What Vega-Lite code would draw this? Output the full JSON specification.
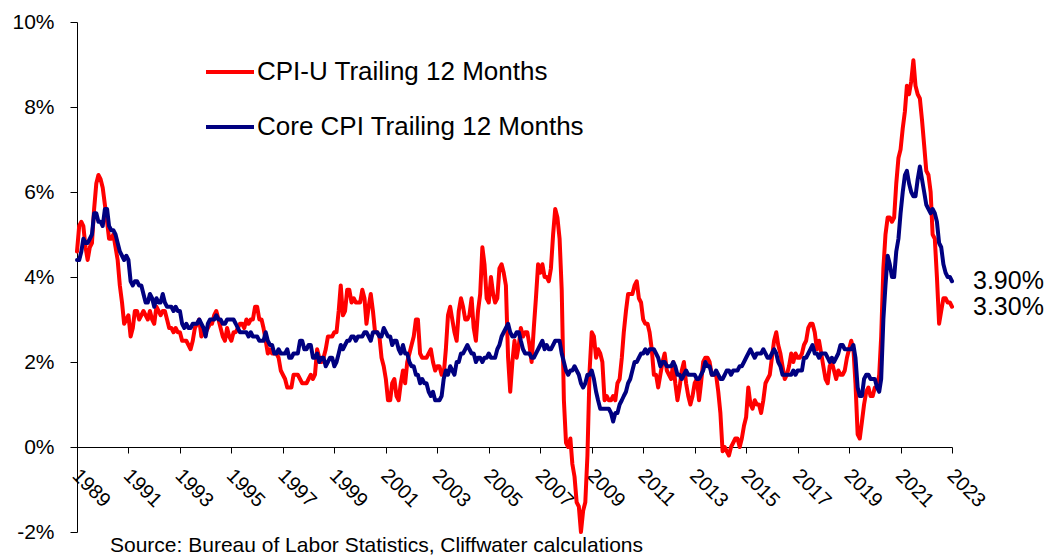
{
"$schema":"https://vega.github.io/schema/vega-lite/v6.json",
"width":875,"height":510,
"autosize":{"type":"none"},
"padding":{"left":77,"top":22,"right":95,"bottom":23},
"background":"white",
"config":{"view":{"stroke":null},"font":"Liberation Sans"},
"title":{"text":"Source: Bureau of Labor Statistics, Cliffwater calculations","orient":"bottom","anchor":"start","frame":"group","dx":33,"offset":-7,"fontSize":21,"fontWeight":"normal","color":"black","font":"Liberation Sans","baseline":"top"},
"datasets":{
"cpi":[
{"d":"1989-12","c":4.6,"k":4.4},
{"d":"1990-01","c":5.2,"k":4.4},{"d":"1990-02","c":5.3,"k":4.6},{"d":"1990-03","c":5.2,"k":4.9},{"d":"1990-04","c":4.7,"k":4.8},{"d":"1990-05","c":4.4,"k":4.8},{"d":"1990-06","c":4.7,"k":4.9},{"d":"1990-07","c":4.8,"k":5.0},{"d":"1990-08","c":5.6,"k":5.5},{"d":"1990-09","c":6.2,"k":5.5},{"d":"1990-10","c":6.4,"k":5.3},{"d":"1990-11","c":6.3,"k":5.3},{"d":"1990-12","c":6.1,"k":5.2},
{"d":"1991-01","c":5.7,"k":5.6},{"d":"1991-02","c":5.3,"k":5.6},{"d":"1991-03","c":4.9,"k":5.2},{"d":"1991-04","c":4.9,"k":5.1},{"d":"1991-05","c":5.0,"k":5.1},{"d":"1991-06","c":4.7,"k":5.0},{"d":"1991-07","c":4.4,"k":4.8},{"d":"1991-08","c":3.8,"k":4.6},{"d":"1991-09","c":3.4,"k":4.5},{"d":"1991-10","c":2.9,"k":4.4},{"d":"1991-11","c":3.0,"k":4.5},{"d":"1991-12","c":3.1,"k":4.4},
{"d":"1992-01","c":2.6,"k":3.9},{"d":"1992-02","c":2.8,"k":3.8},{"d":"1992-03","c":3.2,"k":3.9},{"d":"1992-04","c":3.2,"k":3.9},{"d":"1992-05","c":3.0,"k":3.8},{"d":"1992-06","c":3.1,"k":3.8},{"d":"1992-07","c":3.2,"k":3.6},{"d":"1992-08","c":3.1,"k":3.4},{"d":"1992-09","c":3.0,"k":3.4},{"d":"1992-10","c":3.2,"k":3.6},{"d":"1992-11","c":3.0,"k":3.5},{"d":"1992-12","c":2.9,"k":3.3},
{"d":"1993-01","c":3.3,"k":3.5},{"d":"1993-02","c":3.2,"k":3.4},{"d":"1993-03","c":3.1,"k":3.4},{"d":"1993-04","c":3.2,"k":3.6},{"d":"1993-05","c":3.2,"k":3.4},{"d":"1993-06","c":3.0,"k":3.3},{"d":"1993-07","c":2.8,"k":3.3},{"d":"1993-08","c":2.8,"k":3.3},{"d":"1993-09","c":2.7,"k":3.2},{"d":"1993-10","c":2.8,"k":3.3},{"d":"1993-11","c":2.7,"k":3.2},{"d":"1993-12","c":2.7,"k":3.2},
{"d":"1994-01","c":2.5,"k":2.9},{"d":"1994-02","c":2.5,"k":2.8},{"d":"1994-03","c":2.5,"k":2.9},{"d":"1994-04","c":2.4,"k":2.8},{"d":"1994-05","c":2.3,"k":2.8},{"d":"1994-06","c":2.5,"k":2.9},{"d":"1994-07","c":2.8,"k":2.9},{"d":"1994-08","c":2.9,"k":2.9},{"d":"1994-09","c":3.0,"k":3.0},{"d":"1994-10","c":2.6,"k":2.9},{"d":"1994-11","c":2.7,"k":2.8},{"d":"1994-12","c":2.7,"k":2.6},
{"d":"1995-01","c":2.8,"k":2.9},{"d":"1995-02","c":2.9,"k":3.0},{"d":"1995-03","c":2.9,"k":3.0},{"d":"1995-04","c":3.1,"k":3.0},{"d":"1995-05","c":3.2,"k":3.1},{"d":"1995-06","c":3.0,"k":3.0},{"d":"1995-07","c":2.8,"k":3.0},{"d":"1995-08","c":2.6,"k":2.9},{"d":"1995-09","c":2.5,"k":2.9},{"d":"1995-10","c":2.8,"k":3.0},{"d":"1995-11","c":2.6,"k":3.0},{"d":"1995-12","c":2.5,"k":3.0},
{"d":"1996-01","c":2.7,"k":3.0},{"d":"1996-02","c":2.7,"k":2.9},{"d":"1996-03","c":2.8,"k":2.8},{"d":"1996-04","c":2.9,"k":2.7},{"d":"1996-05","c":2.9,"k":2.7},{"d":"1996-06","c":2.8,"k":2.7},{"d":"1996-07","c":3.0,"k":2.7},{"d":"1996-08","c":2.9,"k":2.6},{"d":"1996-09","c":3.0,"k":2.7},{"d":"1996-10","c":3.0,"k":2.6},{"d":"1996-11","c":3.3,"k":2.6},{"d":"1996-12","c":3.3,"k":2.6},
{"d":"1997-01","c":3.0,"k":2.5},{"d":"1997-02","c":3.0,"k":2.5},{"d":"1997-03","c":2.8,"k":2.5},{"d":"1997-04","c":2.5,"k":2.7},{"d":"1997-05","c":2.2,"k":2.5},{"d":"1997-06","c":2.3,"k":2.4},{"d":"1997-07","c":2.2,"k":2.4},{"d":"1997-08","c":2.2,"k":2.2},{"d":"1997-09","c":2.2,"k":2.2},{"d":"1997-10","c":2.1,"k":2.3},{"d":"1997-11","c":1.8,"k":2.2},{"d":"1997-12","c":1.7,"k":2.2},
{"d":"1998-01","c":1.6,"k":2.2},{"d":"1998-02","c":1.4,"k":2.3},{"d":"1998-03","c":1.4,"k":2.1},{"d":"1998-04","c":1.4,"k":2.1},{"d":"1998-05","c":1.7,"k":2.2},{"d":"1998-06","c":1.7,"k":2.2},{"d":"1998-07","c":1.7,"k":2.2},{"d":"1998-08","c":1.6,"k":2.5},{"d":"1998-09","c":1.5,"k":2.5},{"d":"1998-10","c":1.5,"k":2.3},{"d":"1998-11","c":1.5,"k":2.3},{"d":"1998-12","c":1.6,"k":2.4},
{"d":"1999-01","c":1.7,"k":2.4},{"d":"1999-02","c":1.6,"k":2.1},{"d":"1999-03","c":1.7,"k":2.1},{"d":"1999-04","c":2.3,"k":2.2},{"d":"1999-05","c":2.1,"k":2.0},{"d":"1999-06","c":2.0,"k":2.1},{"d":"1999-07","c":2.1,"k":2.1},{"d":"1999-08","c":2.3,"k":1.9},{"d":"1999-09","c":2.6,"k":2.0},{"d":"1999-10","c":2.6,"k":2.1},{"d":"1999-11","c":2.6,"k":2.1},{"d":"1999-12","c":2.7,"k":1.9},
{"d":"2000-01","c":2.7,"k":2.0},{"d":"2000-02","c":3.2,"k":2.2},{"d":"2000-03","c":3.8,"k":2.4},{"d":"2000-04","c":3.1,"k":2.3},{"d":"2000-05","c":3.2,"k":2.4},{"d":"2000-06","c":3.7,"k":2.5},{"d":"2000-07","c":3.7,"k":2.5},{"d":"2000-08","c":3.4,"k":2.6},{"d":"2000-09","c":3.5,"k":2.6},{"d":"2000-10","c":3.4,"k":2.5},{"d":"2000-11","c":3.4,"k":2.6},{"d":"2000-12","c":3.4,"k":2.6},
{"d":"2001-01","c":3.7,"k":2.6},{"d":"2001-02","c":3.5,"k":2.7},{"d":"2001-03","c":2.9,"k":2.7},{"d":"2001-04","c":3.3,"k":2.6},{"d":"2001-05","c":3.6,"k":2.5},{"d":"2001-06","c":3.2,"k":2.7},{"d":"2001-07","c":2.7,"k":2.7},{"d":"2001-08","c":2.7,"k":2.7},{"d":"2001-09","c":2.6,"k":2.6},{"d":"2001-10","c":2.1,"k":2.6},{"d":"2001-11","c":1.9,"k":2.8},{"d":"2001-12","c":1.6,"k":2.7},
{"d":"2002-01","c":1.1,"k":2.6},{"d":"2002-02","c":1.1,"k":2.6},{"d":"2002-03","c":1.5,"k":2.4},{"d":"2002-04","c":1.6,"k":2.5},{"d":"2002-05","c":1.2,"k":2.5},{"d":"2002-06","c":1.1,"k":2.3},{"d":"2002-07","c":1.5,"k":2.2},{"d":"2002-08","c":1.8,"k":2.4},{"d":"2002-09","c":1.5,"k":2.2},{"d":"2002-10","c":2.0,"k":2.2},{"d":"2002-11","c":2.2,"k":2.0},{"d":"2002-12","c":2.4,"k":1.9},
{"d":"2003-01","c":2.6,"k":1.9},{"d":"2003-02","c":3.0,"k":1.7},{"d":"2003-03","c":3.0,"k":1.7},{"d":"2003-04","c":2.2,"k":1.5},{"d":"2003-05","c":2.1,"k":1.6},{"d":"2003-06","c":2.1,"k":1.5},{"d":"2003-07","c":2.1,"k":1.5},{"d":"2003-08","c":2.2,"k":1.3},{"d":"2003-09","c":2.3,"k":1.2},{"d":"2003-10","c":2.0,"k":1.3},{"d":"2003-11","c":1.8,"k":1.1},{"d":"2003-12","c":1.9,"k":1.1},
{"d":"2004-01","c":1.9,"k":1.1},{"d":"2004-02","c":1.7,"k":1.2},{"d":"2004-03","c":1.7,"k":1.6},{"d":"2004-04","c":2.3,"k":1.8},{"d":"2004-05","c":3.1,"k":1.7},{"d":"2004-06","c":3.3,"k":1.9},{"d":"2004-07","c":3.0,"k":1.8},{"d":"2004-08","c":2.7,"k":1.7},{"d":"2004-09","c":2.5,"k":2.0},{"d":"2004-10","c":3.2,"k":2.0},{"d":"2004-11","c":3.5,"k":2.2},{"d":"2004-12","c":3.3,"k":2.2},
{"d":"2005-01","c":3.0,"k":2.3},{"d":"2005-02","c":3.0,"k":2.4},{"d":"2005-03","c":3.1,"k":2.3},{"d":"2005-04","c":3.5,"k":2.2},{"d":"2005-05","c":2.8,"k":2.2},{"d":"2005-06","c":2.5,"k":2.0},{"d":"2005-07","c":3.2,"k":2.1},{"d":"2005-08","c":3.6,"k":2.1},{"d":"2005-09","c":4.7,"k":2.0},{"d":"2005-10","c":4.3,"k":2.1},{"d":"2005-11","c":3.5,"k":2.1},{"d":"2005-12","c":3.4,"k":2.2},
{"d":"2006-01","c":4.0,"k":2.1},{"d":"2006-02","c":3.6,"k":2.1},{"d":"2006-03","c":3.4,"k":2.1},{"d":"2006-04","c":3.5,"k":2.3},{"d":"2006-05","c":4.2,"k":2.4},{"d":"2006-06","c":4.3,"k":2.6},{"d":"2006-07","c":4.1,"k":2.7},{"d":"2006-08","c":3.8,"k":2.8},{"d":"2006-09","c":2.1,"k":2.9},{"d":"2006-10","c":1.3,"k":2.7},{"d":"2006-11","c":2.0,"k":2.6},{"d":"2006-12","c":2.5,"k":2.6},
{"d":"2007-01","c":2.1,"k":2.7},{"d":"2007-02","c":2.4,"k":2.7},{"d":"2007-03","c":2.8,"k":2.5},{"d":"2007-04","c":2.6,"k":2.3},{"d":"2007-05","c":2.7,"k":2.2},{"d":"2007-06","c":2.7,"k":2.2},{"d":"2007-07","c":2.4,"k":2.2},{"d":"2007-08","c":2.0,"k":2.1},{"d":"2007-09","c":2.8,"k":2.1},{"d":"2007-10","c":3.5,"k":2.2},{"d":"2007-11","c":4.3,"k":2.3},{"d":"2007-12","c":4.1,"k":2.4},
{"d":"2008-01","c":4.3,"k":2.5},{"d":"2008-02","c":4.0,"k":2.3},{"d":"2008-03","c":4.0,"k":2.4},{"d":"2008-04","c":3.9,"k":2.3},{"d":"2008-05","c":4.2,"k":2.3},{"d":"2008-06","c":5.0,"k":2.4},{"d":"2008-07","c":5.6,"k":2.5},{"d":"2008-08","c":5.4,"k":2.5},{"d":"2008-09","c":4.9,"k":2.5},{"d":"2008-10","c":3.7,"k":2.2},{"d":"2008-11","c":1.1,"k":2.0},{"d":"2008-12","c":0.1,"k":1.8},
{"d":"2009-01","c":0.0,"k":1.7},{"d":"2009-02","c":0.2,"k":1.8},{"d":"2009-03","c":-0.4,"k":1.8},{"d":"2009-04","c":-0.7,"k":1.9},{"d":"2009-05","c":-1.3,"k":1.8},{"d":"2009-06","c":-1.4,"k":1.7},{"d":"2009-07","c":-2.0,"k":1.5},{"d":"2009-08","c":-1.5,"k":1.4},{"d":"2009-09","c":-1.3,"k":1.5},{"d":"2009-10","c":-0.2,"k":1.7},{"d":"2009-11","c":1.8,"k":1.7},{"d":"2009-12","c":2.7,"k":1.8},
{"d":"2010-01","c":2.6,"k":1.6},{"d":"2010-02","c":2.1,"k":1.3},{"d":"2010-03","c":2.3,"k":1.1},{"d":"2010-04","c":2.2,"k":0.9},{"d":"2010-05","c":2.0,"k":0.9},{"d":"2010-06","c":1.1,"k":0.9},{"d":"2010-07","c":1.2,"k":0.9},{"d":"2010-08","c":1.1,"k":0.9},{"d":"2010-09","c":1.1,"k":0.8},{"d":"2010-10","c":1.2,"k":0.6},{"d":"2010-11","c":1.1,"k":0.8},{"d":"2010-12","c":1.5,"k":0.8},
{"d":"2011-01","c":1.6,"k":1.0},{"d":"2011-02","c":2.1,"k":1.1},{"d":"2011-03","c":2.7,"k":1.2},{"d":"2011-04","c":3.2,"k":1.3},{"d":"2011-05","c":3.6,"k":1.5},{"d":"2011-06","c":3.6,"k":1.6},{"d":"2011-07","c":3.6,"k":1.8},{"d":"2011-08","c":3.8,"k":2.0},{"d":"2011-09","c":3.9,"k":2.0},{"d":"2011-10","c":3.5,"k":2.1},{"d":"2011-11","c":3.4,"k":2.2},{"d":"2011-12","c":3.0,"k":2.2},
{"d":"2012-01","c":2.9,"k":2.3},{"d":"2012-02","c":2.9,"k":2.2},{"d":"2012-03","c":2.7,"k":2.3},{"d":"2012-04","c":2.3,"k":2.3},{"d":"2012-05","c":1.7,"k":2.3},{"d":"2012-06","c":1.7,"k":2.2},{"d":"2012-07","c":1.4,"k":2.1},{"d":"2012-08","c":1.7,"k":1.9},{"d":"2012-09","c":2.0,"k":2.0},{"d":"2012-10","c":2.2,"k":2.0},{"d":"2012-11","c":1.8,"k":1.9},{"d":"2012-12","c":1.7,"k":1.9},
{"d":"2013-01","c":1.6,"k":1.9},{"d":"2013-02","c":2.0,"k":2.0},{"d":"2013-03","c":1.5,"k":1.9},{"d":"2013-04","c":1.1,"k":1.7},{"d":"2013-05","c":1.4,"k":1.7},{"d":"2013-06","c":1.8,"k":1.6},{"d":"2013-07","c":2.0,"k":1.7},{"d":"2013-08","c":1.5,"k":1.8},{"d":"2013-09","c":1.2,"k":1.7},{"d":"2013-10","c":1.0,"k":1.7},{"d":"2013-11","c":1.2,"k":1.7},{"d":"2013-12","c":1.5,"k":1.7},
{"d":"2014-01","c":1.6,"k":1.6},{"d":"2014-02","c":1.1,"k":1.6},{"d":"2014-03","c":1.5,"k":1.7},{"d":"2014-04","c":2.0,"k":1.8},{"d":"2014-05","c":2.1,"k":2.0},{"d":"2014-06","c":2.1,"k":1.9},{"d":"2014-07","c":2.0,"k":1.9},{"d":"2014-08","c":1.7,"k":1.7},{"d":"2014-09","c":1.7,"k":1.7},{"d":"2014-10","c":1.7,"k":1.8},{"d":"2014-11","c":1.3,"k":1.7},{"d":"2014-12","c":0.8,"k":1.6},
{"d":"2015-01","c":-0.1,"k":1.6},{"d":"2015-02","c":0.0,"k":1.7},{"d":"2015-03","c":-0.1,"k":1.8},{"d":"2015-04","c":-0.2,"k":1.8},{"d":"2015-05","c":0.0,"k":1.7},{"d":"2015-06","c":0.1,"k":1.8},{"d":"2015-07","c":0.2,"k":1.8},{"d":"2015-08","c":0.2,"k":1.8},{"d":"2015-09","c":0.0,"k":1.9},{"d":"2015-10","c":0.2,"k":1.9},{"d":"2015-11","c":0.5,"k":2.0},{"d":"2015-12","c":0.7,"k":2.1},
{"d":"2016-01","c":1.4,"k":2.2},{"d":"2016-02","c":1.0,"k":2.3},{"d":"2016-03","c":0.9,"k":2.2},{"d":"2016-04","c":1.1,"k":2.1},{"d":"2016-05","c":1.0,"k":2.2},{"d":"2016-06","c":1.0,"k":2.2},{"d":"2016-07","c":0.8,"k":2.2},{"d":"2016-08","c":1.1,"k":2.3},{"d":"2016-09","c":1.5,"k":2.2},{"d":"2016-10","c":1.6,"k":2.1},{"d":"2016-11","c":1.7,"k":2.1},{"d":"2016-12","c":2.1,"k":2.2},
{"d":"2017-01","c":2.5,"k":2.3},{"d":"2017-02","c":2.7,"k":2.2},{"d":"2017-03","c":2.4,"k":2.0},{"d":"2017-04","c":2.2,"k":1.9},{"d":"2017-05","c":1.9,"k":1.7},{"d":"2017-06","c":1.6,"k":1.7},{"d":"2017-07","c":1.7,"k":1.7},{"d":"2017-08","c":1.9,"k":1.7},{"d":"2017-09","c":2.2,"k":1.7},{"d":"2017-10","c":2.0,"k":1.8},{"d":"2017-11","c":2.2,"k":1.7},{"d":"2017-12","c":2.1,"k":1.8},
{"d":"2018-01","c":2.1,"k":1.8},{"d":"2018-02","c":2.2,"k":1.8},{"d":"2018-03","c":2.4,"k":2.1},{"d":"2018-04","c":2.5,"k":2.1},{"d":"2018-05","c":2.8,"k":2.2},{"d":"2018-06","c":2.9,"k":2.3},{"d":"2018-07","c":2.9,"k":2.4},{"d":"2018-08","c":2.7,"k":2.2},{"d":"2018-09","c":2.3,"k":2.2},{"d":"2018-10","c":2.5,"k":2.1},{"d":"2018-11","c":2.2,"k":2.2},{"d":"2018-12","c":1.9,"k":2.2},
{"d":"2019-01","c":1.6,"k":2.2},{"d":"2019-02","c":1.5,"k":2.1},{"d":"2019-03","c":1.9,"k":2.0},{"d":"2019-04","c":2.0,"k":2.1},{"d":"2019-05","c":1.8,"k":2.0},{"d":"2019-06","c":1.6,"k":2.1},{"d":"2019-07","c":1.8,"k":2.2},{"d":"2019-08","c":1.7,"k":2.4},{"d":"2019-09","c":1.7,"k":2.4},{"d":"2019-10","c":1.8,"k":2.3},{"d":"2019-11","c":2.1,"k":2.3},{"d":"2019-12","c":2.3,"k":2.3},
{"d":"2020-01","c":2.5,"k":2.3},{"d":"2020-02","c":2.3,"k":2.4},{"d":"2020-03","c":1.5,"k":2.1},{"d":"2020-04","c":0.3,"k":1.4},{"d":"2020-05","c":0.2,"k":1.2},{"d":"2020-06","c":0.6,"k":1.2},{"d":"2020-07","c":1.0,"k":1.6},{"d":"2020-08","c":1.3,"k":1.7},{"d":"2020-09","c":1.4,"k":1.7},{"d":"2020-10","c":1.2,"k":1.6},{"d":"2020-11","c":1.2,"k":1.6},{"d":"2020-12","c":1.4,"k":1.6},
{"d":"2021-01","c":1.4,"k":1.4},{"d":"2021-02","c":1.7,"k":1.3},{"d":"2021-03","c":2.6,"k":1.6},{"d":"2021-04","c":4.2,"k":3.0},{"d":"2021-05","c":5.0,"k":3.8},{"d":"2021-06","c":5.4,"k":4.5},{"d":"2021-07","c":5.4,"k":4.3},{"d":"2021-08","c":5.3,"k":4.0},{"d":"2021-09","c":5.4,"k":4.0},{"d":"2021-10","c":6.2,"k":4.6},{"d":"2021-11","c":6.8,"k":4.9},{"d":"2021-12","c":7.0,"k":5.5},
{"d":"2022-01","c":7.5,"k":6.0},{"d":"2022-02","c":7.9,"k":6.4},{"d":"2022-03","c":8.5,"k":6.5},{"d":"2022-04","c":8.3,"k":6.2},{"d":"2022-05","c":8.6,"k":6.0},{"d":"2022-06","c":9.1,"k":5.9},{"d":"2022-07","c":8.5,"k":5.9},{"d":"2022-08","c":8.3,"k":6.3},{"d":"2022-09","c":8.2,"k":6.6},{"d":"2022-10","c":7.7,"k":6.3},{"d":"2022-11","c":7.1,"k":6.0},{"d":"2022-12","c":6.5,"k":5.7},
{"d":"2023-01","c":6.4,"k":5.6},{"d":"2023-02","c":6.0,"k":5.5},{"d":"2023-03","c":5.0,"k":5.6},{"d":"2023-04","c":4.9,"k":5.5},{"d":"2023-05","c":4.0,"k":5.3},{"d":"2023-06","c":2.9,"k":4.8},{"d":"2023-07","c":3.2,"k":4.7},{"d":"2023-08","c":3.5,"k":4.3},{"d":"2023-09","c":3.5,"k":4.1},{"d":"2023-10","c":3.4,"k":4.0},{"d":"2023-11","c":3.4,"k":4.0},{"d":"2023-12","c":3.3,"k":3.9}
],
"ends":[
{"d":"2023-12","v":3.9,"l":"3.90%"},
{"d":"2023-12","v":3.3,"l":"3.30%"}
]
},
"layer":[
{
"data":{"name":"cpi"},
"transform":[{"fold":["c","k"],"as":["s","v"]}],
"mark":{"type":"line","strokeWidth":4,"strokeJoin":"round","strokeCap":"round"},
"encoding":{
"x":{"field":"d","type":"temporal",
"scale":{"type":"utc","nice":false,"domain":[{"year":1989,"month":12,"date":1,"utc":true},{"year":2023,"month":12,"date":1,"utc":true}]},
"axis":{"title":null,"grid":false,"offset":-85,
"values":[{"year":1989,"month":12,"date":1,"utc":true},{"year":1991,"month":12,"date":1,"utc":true},{"year":1993,"month":12,"date":1,"utc":true},{"year":1995,"month":12,"date":1,"utc":true},{"year":1997,"month":12,"date":1,"utc":true},{"year":1999,"month":12,"date":1,"utc":true},{"year":2001,"month":12,"date":1,"utc":true},{"year":2003,"month":12,"date":1,"utc":true},{"year":2005,"month":12,"date":1,"utc":true},{"year":2007,"month":12,"date":1,"utc":true},{"year":2009,"month":12,"date":1,"utc":true},{"year":2011,"month":12,"date":1,"utc":true},{"year":2013,"month":12,"date":1,"utc":true},{"year":2015,"month":12,"date":1,"utc":true},{"year":2017,"month":12,"date":1,"utc":true},{"year":2019,"month":12,"date":1,"utc":true},{"year":2021,"month":12,"date":1,"utc":true},{"year":2023,"month":12,"date":1,"utc":true}],
"labelExpr":"utcFormat(datum.value, '%Y')",
"labelAngle":45,"labelFontSize":20,"labelColor":"black","labelFont":"Liberation Sans","labelPadding":12,"labelOffset":5,"labelFlush":false,"labelOverlap":false,
"domainColor":"black","tickColor":"black","tickSize":6}},
"y":{"field":"v","type":"quantitative",
"scale":{"domain":[-2,10],"nice":false,"zero":false},
"axis":{"title":null,"grid":false,"values":[-2,0,2,4,6,8,10],"labelExpr":"datum.value + '%'",
"labelFontSize":21,"labelColor":"black","labelFont":"Liberation Sans","labelPadding":16,
"domainColor":"black","tickColor":"black","tickSize":7}},
"color":{"field":"s","type":"nominal",
"scale":{"domain":["c","k"],"range":["#FF0000","#000080"]},
"legend":{"orient":"none","legendX":127,"legendY":24,"title":null,"padding":0,
"symbolType":"stroke","symbolSize":2304,"symbolStrokeWidth":4,
"labelFontSize":26,"labelFont":"Liberation Sans","labelColor":"black","labelOffset":1,"labelLimit":800,"rowPadding":16,
"labelExpr":"datum.label == 'c' ? 'CPI-U Trailing 12 Months' : 'Core CPI Trailing 12 Months'"}}
}
},
{
"data":{"name":"ends"},
"mark":{"type":"text","align":"left","baseline":"middle","dx":21,"fontSize":25,"font":"Liberation Sans","color":"black"},
"encoding":{
"x":{"field":"d","type":"temporal"},
"y":{"field":"v","type":"quantitative"},
"text":{"field":"l"}
}
}
]
}
